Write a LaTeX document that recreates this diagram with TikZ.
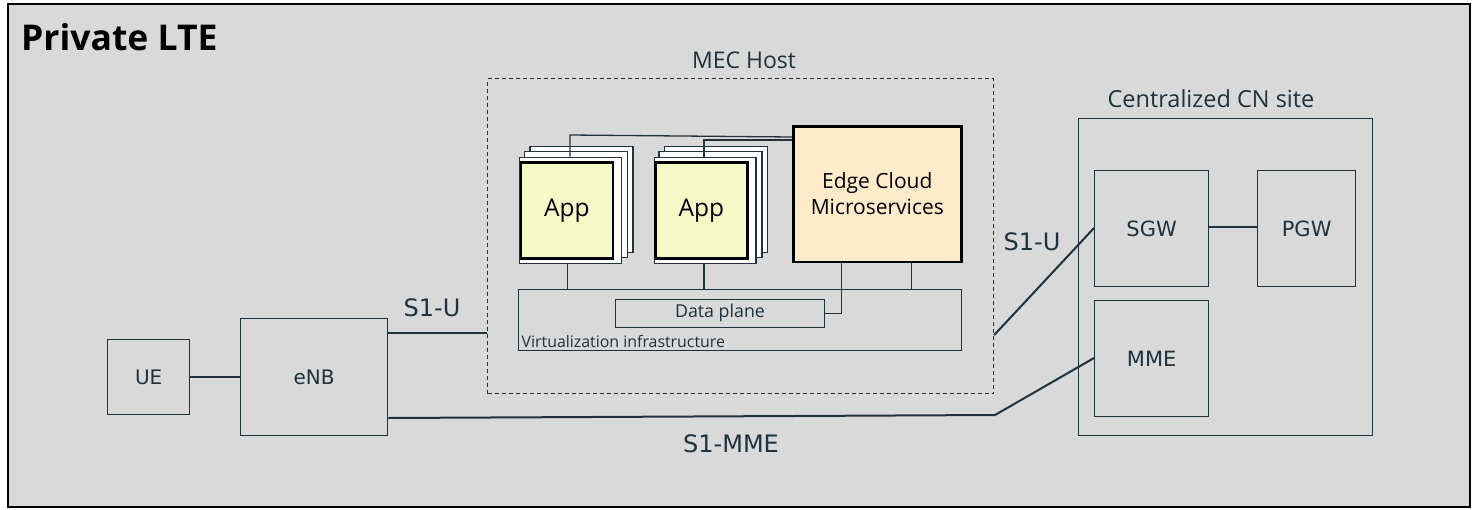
\documentclass[tikz,border=0pt]{standalone}
\usepackage{fontspec}
\setmainfont{DejaVu Sans}
\newfontfamily\clearfont{Open Sans}
\definecolor{bg}{HTML}{D9D9D9}
\definecolor{ln}{HTML}{22313A}
\definecolor{appfill}{HTML}{F5F9C6}
\definecolor{edgefill}{HTML}{FDEBCA}
\tikzset{
  px/.style={x=1pt,y=-1pt},
  boxn/.style={draw=ln,line width=1.3pt,inner sep=0pt,anchor=north west,text=ln},
  thinln/.style={draw=ln,line width=1.3pt},
  wire/.style={draw=ln,line width=2pt},
  lbl/.style={text=ln,inner sep=0pt},
}
\begin{document}
\begin{tikzpicture}[px]
\useasboundingbox (0,0) rectangle (1472,509);
\fill[white] (0,0) rectangle (1472,509);
\draw[fill=bg,draw=black,line width=2.6pt] (8,4) rectangle (1470,507);
\node[anchor=west,inner sep=0pt,font=\clearfont\fontsize{35.5}{40}\selectfont\bfseries] (title) at (21,37) {Private LTE};

% left side
\node[boxn,minimum width=82,minimum height=75] (ue) at (107,339) {};
\node[lbl,font=\fontsize{20}{24}\selectfont] at (ue.center) {UE};
\node[boxn,minimum width=147,minimum height=117] (enb) at (240,318) {};
\node[lbl,font=\fontsize{20}{24}\selectfont] at (enb.center) {eNB};

% MEC host
\node[draw=ln,dashed,dash pattern=on 4pt off 3pt,line width=1.2pt,anchor=north west,minimum width=506,minimum height=315,inner sep=0pt] (mec) at (487,78) {};
\node[lbl,font=\clearfont\fontsize{23}{26}\selectfont] (mecl) at (744,60) {MEC Host};

% Centralized CN
\node[boxn,minimum width=294,minimum height=317] (cn) at (1078,118) {};
\node[lbl,font=\clearfont\fontsize{23.5}{26}\selectfont] (cnl) at (1211,99) {Centralized CN site};
\node[boxn,minimum width=114,minimum height=116] (sgw) at (1094,170) {};
\node[lbl,font=\fontsize{21}{24}\selectfont] at (sgw.center) {SGW};
\node[boxn,minimum width=98,minimum height=116] (pgw) at (1257,170) {};
\node[lbl,font=\fontsize{21}{24}\selectfont] at (pgw.center) {PGW};
\node[boxn,minimum width=114,minimum height=116] (mme) at (1094,300) {};
\node[lbl,font=\fontsize{21}{24}\selectfont] at (mme.center) {MME};

% apps stacks
\foreach \n/\dx in {a/0,b/134.5}{
  \node[boxn,fill=white,minimum width=103,minimum height=106] (\n3) at (529.3+\dx,145.7) {};
  \node[boxn,fill=white,minimum width=103,minimum height=105.7] (\n2) at (523.7+\dx,151) {};
  \node[boxn,fill=white,minimum width=101.7,minimum height=106] (\n1) at (519+\dx,156.7) {};
  \node[boxn,fill=appfill,line width=2.6pt,draw=black,minimum width=92,minimum height=96] (\n0) at (519.5+\dx,161) {};
  \node[lbl,text=black,font=\clearfont\fontsize{24.5}{28}\selectfont] at (\n0.center) {App};
}
\node[boxn,fill=edgefill,line width=2.6pt,minimum width=168,minimum height=135.7,draw=black] (edge) at (792,125) {};
\node[lbl,text=black,align=center,font=\clearfont\fontsize{21}{26}\selectfont] at ([yshift=1pt]edge.center) {Edge Cloud\\Microservices};

% virtualization
\node[boxn,minimum width=443.3,minimum height=61.3] (virt) at (517.7,288.7) {};
\node[lbl,anchor=south west,font=\clearfont\fontsize{15.9}{18}\selectfont] (virtl) at (521.5,348) {Virtualization infrastructure};
\node[boxn,minimum width=208.7,minimum height=28] (dp) at (615,298.7) {};
\node[lbl,font=\clearfont\fontsize{17.8}{20}\selectfont] at (dp.center) {Data plane};

% internal connectors
\draw[thinln] (a1.south -| 567.3,0) -- (virt.north -| 567.3,0);
\draw[thinln] (b1.south -| 704,0) -- (virt.north -| 704,0);
\draw[thinln] (edge.south -| 911.3,0) -- (virt.north -| 911.3,0);
\draw[thinln] (edge.south -| 841.7,0) |- (dp.east);
\draw[thinln] (a1.north -| 570,0) -- (570,135) -- (edge.west |- 0,137);
\draw[thinln] (b1.north -| 704,0) -- (704,140) -- (edge.west |- 0,140);

% external wires
\draw[wire] (ue.east) -- (enb.west |- ue.east);
\draw[wire] (enb.east |- 0,333) -- (mec.west |- 0,333);
\node[lbl,font=\fontsize{24}{28}\selectfont] (s1u1) at (432,308) {S1-U};
\draw[wire] (mec.east |- 0,335) -- (sgw.west |- 0,228);
\node[lbl,font=\fontsize{24}{28}\selectfont] (s1u2) at (1032,242) {S1-U};
\coordinate (bend) at (995,415);
\draw[wire] (enb.east |- 0,418) -- (bend) -- (mme.west |- 0,358);
\node[lbl,font=\fontsize{24}{28}\selectfont] (s1mme) at (731,444) {S1-MME};
\draw[wire] (sgw.east |- 0,227) -- (pgw.west |- 0,227);
\end{tikzpicture}
\end{document}
